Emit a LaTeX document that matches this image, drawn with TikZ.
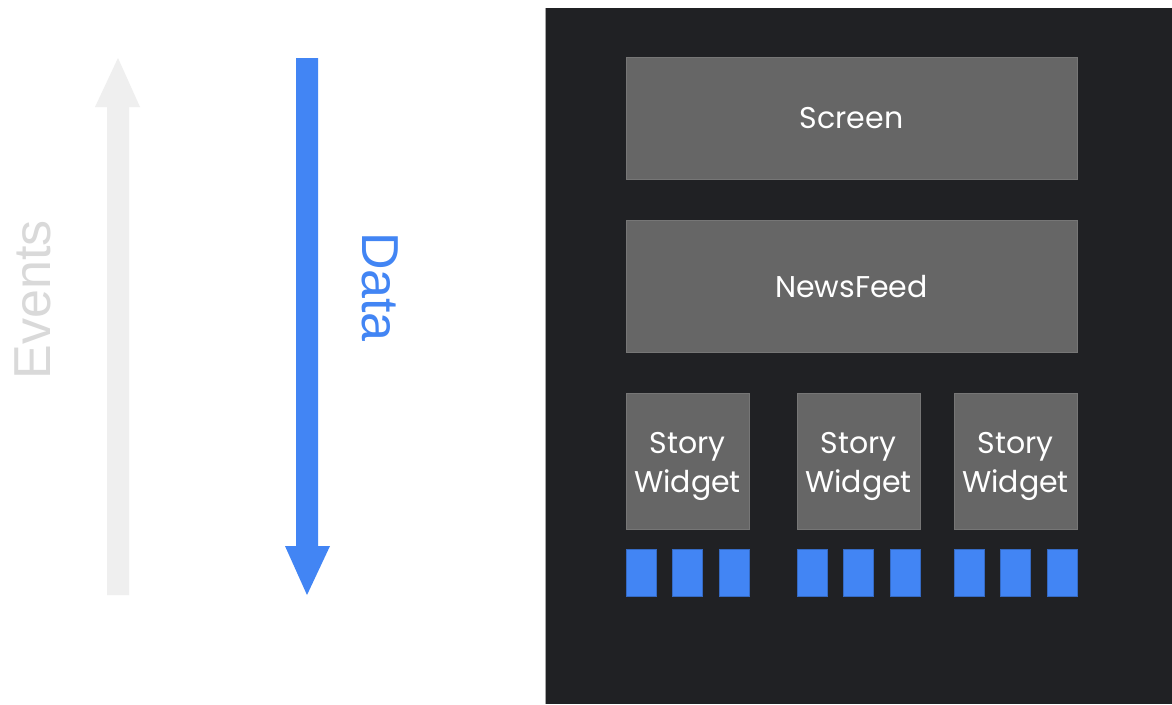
\documentclass[tikz,border=0pt]{standalone}
\usepackage{fontspec}
\newfontfamily\boxfont{Poppins}
\newfontfamily\arrowfont{Liberation Sans}
\definecolor{panel}{HTML}{202124}
\definecolor{boxgray}{HTML}{666666}
\definecolor{boxedge}{HTML}{767676}
\definecolor{gblue}{HTML}{4285F4}
\definecolor{evarrow}{HTML}{EFEFEF}
\definecolor{evtext}{HTML}{D9D9D9}
\tikzset{
  compbox/.style={draw=boxedge, line width=0.8pt, fill=boxgray, inner sep=0pt, anchor=north west},
  lbl/.style={text=white, font=\boxfont\fontsize{30}{36}\selectfont, inner sep=0pt, anchor=base},
  leaf/.style={draw=gblue!80!black, line width=0.5pt, fill=gblue, inner sep=0pt, anchor=north west, minimum width=30pt, minimum height=47pt},
  arrlbl/.style={font=\arrowfont\fontsize{52}{60}\selectfont, inner sep=0pt, anchor=base}
}
\begin{document}
\begin{tikzpicture}[x=1pt,y=-1pt]
\useasboundingbox (0,0) rectangle (1172,704);
\fill[white] (0,0) rectangle (1172,704);
% dark panel
\fill[panel] (545,8) rectangle (1172,704);
\draw[color=gray!70, line width=0.8pt] (545.4,8) -- (545.4,704);
% Events arrow (up)
\fill[evarrow] (107,595) -- (107,107) -- (95,107) -- (118,58) -- (140,107) -- (129,107) -- (129,595) -- cycle;
\node[arrlbl, text=evtext, rotate=90] (events) at (50.5,300) {Events};
% Data arrow (down)
\fill[gblue] (296,58) -- (318,58) -- (318,546) -- (330,546) -- (307,595) -- (285,546) -- (296,546) -- cycle;
\node[arrlbl, text=gblue, rotate=-90] (data) at (362.5,287) {Data};
% boxes
\node[compbox, minimum width=451pt, minimum height=122pt] (screen) at (626,57) {};
\node[lbl] (screenlbl) at (851.5,128) {Screen};
\node[compbox, minimum width=451pt, minimum height=132pt] (newsfeed) at (626,220) {};
\node[lbl] (newsfeedlbl) at (851.5,297) {NewsFeed};
\foreach \i/\x in {1/626, 2/797, 3/954} {
  \node[compbox, minimum width=123pt, minimum height=136pt] (story\i) at (\x,393) {};
  \node[lbl] (storyA\i) at (\x+61.5,453) {Story};
  \node[lbl] (storyB\i) at (\x+61.5,492) {Widget};
  \node[leaf] (leaf\i a) at (\x,549) {};
  \node[leaf] (leaf\i b) at (\x+46,549) {};
  \node[leaf] (leaf\i c) at (\x+93,549) {};
}
\end{tikzpicture}
\end{document}
